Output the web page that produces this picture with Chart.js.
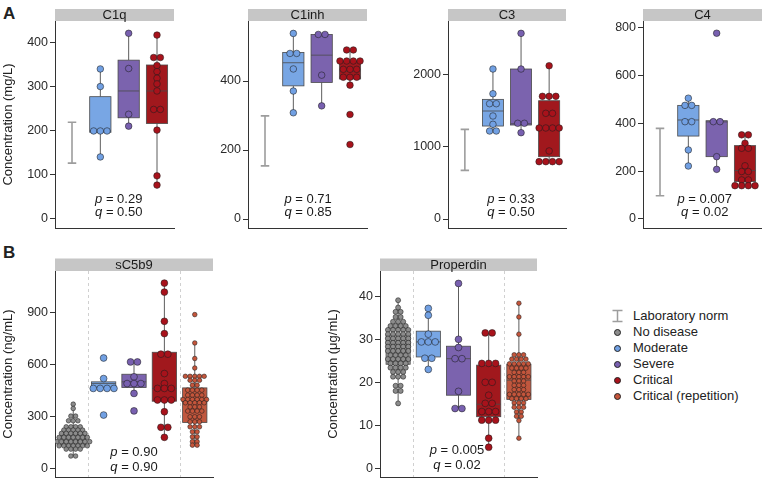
<!DOCTYPE html>
<html>
<head>
<meta charset="utf-8">
<script src="https://cdn.jsdelivr.net/npm/chart.js@4.4.1/dist/chart.umd.min.js"></script>
<style>
  body { margin: 0; background: #fff; }
  #page { position: relative; width: 762px; height: 480px; overflow: hidden; font-family: 'Liberation Sans', Arial, Helvetica, sans-serif; color: #222; }
  #page canvas { position: absolute; }
  .tag { position: absolute; left: 3px; font-weight: bold; font-size: 17px; line-height: 17px; }
  #legend { position: absolute; left: 609px; top: 308px; font-size: 13px; }
  #legend .row { position: relative; height: 16px; line-height: 16px; padding-left: 24px; white-space: nowrap; }
  #legend .dot { position: absolute; left: 5px; top: 5px; width: 5px; height: 5px; border-radius: 50%; border: 0.6px solid #222; }
  #legend svg { position: absolute; left: 2px; top: 1px; }
</style>
</head>
<body>
<div id="page">
  <div class="tag" style="top:5px">A</div>
  <div class="tag" style="top:244px">B</div>
  <div id="legend">
    <div class="row"><svg width="13" height="14"><path d="M1.5 1.5H11.5M6.5 1.5V12.5M1.5 12.5H11.5" stroke="#9d9d9d" stroke-width="1.5" fill="none"/></svg>Laboratory norm</div>
    <div class="row"><span class="dot" style="background:#8c8c8c"></span>No disease</div>
    <div class="row"><span class="dot" style="background:#71a0e3"></span>Moderate</div>
    <div class="row"><span class="dot" style="background:#7860b0"></span>Severe</div>
    <div class="row"><span class="dot" style="background:#a8121b"></span>Critical</div>
    <div class="row"><span class="dot" style="background:#c4553b"></span>Critical (repetition)</div>
  </div>
</div>
<script>
// ==================== DATA ====================
// box stats are [lower whisker, q1, median, q3, upper whisker]
const TOP_GROUPS = ['Laboratory norm', 'Moderate', 'Severe', 'Critical'];
const BOTTOM_GROUPS = ['No disease', 'Moderate', 'Severe', 'Critical', 'Critical (repetition)'];

// C1q (mg/L)
const c1qTicks = [0, 100, 200, 300, 400];
const c1qNorm = [127, 220];
const c1qModerate = [341, 301, 200, 200, 200, 141];
const c1qSevere = [422, 342, 238, 211];
const c1qCritical = [418, 367, 367, 349, 335, 320, 307, 291, 249, 249, 202, 98, 77];
const c1qBoxes = [[141, 197, 200, 278, 341], [211, 230, 291, 361, 422], [77, 217, 291, 350, 418]];

// C1inh (mg/L)
const c1inhTicks = [0, 200, 400];
const c1inhNorm = [154, 299];
const c1inhModerate = [538, 480, 480, 435, 371, 308];
const c1inhSevere = [535, 535, 417, 328];
const c1inhCritical = [490, 490, 458, 458, 458, 458, 434, 434, 434, 411, 411, 411, 388, 303, 216];
const c1inhBoxes = [[308, 386, 453, 483, 538], [328, 396, 475, 535, 535], [388, 406, 429, 458, 490]];

// C3 (mg/L)
const c3Ticks = [0, 1000, 2000];
const c3Norm = [673, 1240];
const c3Moderate = [2075, 1733, 1595, 1595, 1425, 1310, 1217, 1217];
const c3Severe = [2568, 2075, 1324, 1324, 1194];
const c3Critical = [2120, 1697, 1697, 1697, 1462, 1462, 1259, 1259, 1259, 1259, 941, 793, 793, 793, 793];
const c3Boxes = [[1217, 1286, 1494, 1655, 2075], [1194, 1300, 1318, 2075, 2568], [793, 862, 1259, 1636, 2120]];

// C4 (mg/L)
const c4Ticks = [0, 200, 400, 600, 800];
const c4Norm = [97, 378];
const c4Moderate = [504, 474, 474, 406, 406, 288, 221];
const c4Severe = [775, 406, 406, 260, 207];
const c4Critical = [351, 351, 316, 295, 295, 222, 198, 198, 163, 163, 139, 139, 139, 139];
const c4Boxes = [[221, 346, 413, 474, 504], [207, 260, 405, 410, 410], [139, 156, 202, 306, 351]];

// sC5b9 (ng/mL)
const sc5b9Ticks = [0, 300, 600, 900];
const sc5b9NoDisease = [371, 346, 302, 302, 275, 275, 275, 240, 240, 240, 240,
  221, 221, 221, 221, 221, 202, 202, 202, 202, 202, 202,
  179, 179, 179, 179, 179, 179, 179, 154, 154, 154, 154, 154, 154, 154, 154,
  130, 130, 130, 130, 130, 130, 130, 111, 111, 111, 111, 71, 71];
const sc5b9Moderate = [638, 519, 462, 462, 462, 462, 308];
const sc5b9Severe = [615, 615, 529, 490, 490, 490, 433, 332];
const sc5b9Critical = [1071, 1019, 850, 779, 660, 660, 548, 490, 462, 462, 462, 395, 395, 395, 327, 237, 237, 179];
const sc5b9Repetition = [889, 725, 635, 580, 532, 532, 532, 532, 532, 509, 509, 509, 481, 481,
  452, 452, 452, 452, 423, 423, 423, 423, 398, 398, 398, 398, 398, 398,
  379, 379, 379, 379, 379, 355, 355, 355, 331, 331, 331, 331, 298, 298, 298,
  269, 269, 269, 240, 240, 240, 211, 211, 182, 182, 154, 154, 134, 134];
const sc5b9Boxes = [[71, 130, 160, 205, 371], [462, 465, 490, 500, 519], [433, 467, 500, 544, 615],
  [179, 388, 462, 671, 1071], [134, 265, 385, 465, 725]];

// Properdin (µg/mL)
const properdinTicks = [0, 10, 20, 30, 40];
const properdinNoDisease = [39.2, 37.5, 36.5, 36.5, 35.3, 35.3, 34.2, 34.2, 34.2, 33.2, 33.2, 33.2, 33.2,
  32.3, 32.3, 32.3, 32.3, 32.3, 31.3, 31.3, 31.3, 31.3, 31.3, 30.3, 30.3, 30.3, 30.3, 30.3,
  29.3, 29.3, 29.3, 29.3, 29.3, 28.4, 28.4, 28.4, 28.4, 28.4, 27.4, 27.4, 27.4, 27.4, 27.4,
  26.4, 26.4, 26.4, 26.4, 25.5, 25.5, 25.5, 25.5, 25.5, 24.5, 24.5, 24.5, 24.5,
  23.5, 23.5, 23.5, 23.5, 22.5, 22.5, 22.5, 21.4, 21.4, 21.4, 19.3, 19.3, 18.1, 18.1, 15.2];
const properdinModerate = [37.3, 35.7, 31.3, 29.5, 29.5, 29.5, 25.7, 25.7, 23.1];
const properdinSevere = [43.1, 30.1, 28.2, 25.6, 25.6, 18.0, 14.0, 14.0];
const properdinCritical = [31.6, 31.6, 24.5, 24.5, 24.5, 20.1, 20.1, 17.1, 15.2, 15.2,
  13.3, 13.3, 13.3, 11.3, 11.3, 11.3, 7.1, 5.0];
const properdinRepetition = [38.5, 35.3, 31.3, 26.5, 26.5, 26.5, 25.5, 25.5, 25.5, 25.5,
  24.4, 24.4, 24.4, 24.4, 24.4, 23.4, 23.4, 23.4, 23.4, 22.4, 22.4, 22.4,
  21.4, 21.4, 21.4, 21.4, 21.4, 20.4, 20.4, 20.4, 19.4, 19.4, 19.4, 18.4, 18.4, 18.4,
  17.3, 17.3, 17.3, 17.3, 17.3, 16.3, 16.3, 16.3, 16.3, 15.3, 15.3, 15.3,
  14.3, 14.3, 14.3, 13.2, 13.2, 12.2, 12.2, 11.2, 7.1];
const properdinBoxes = [[15.2, 24.3, 28.5, 31.2, 39.2], [23.1, 26.0, 29.5, 32.0, 37.3], [14.0, 17.1, 25.6, 28.5, 43.1],
  [5.0, 12.1, 15.0, 24.1, 31.6], [7.1, 16.1, 20.6, 24.3, 38.5]];

// ==================== STYLE ====================
const FONT = "'Liberation Sans', Arial, Helvetica, sans-serif";
const COLORS = { noDisease: '#8c8c8c', moderate: '#71a0e3', severe: '#7860b0', critical: '#a8121b', repetition: '#c4553b' };
const BOX_COLORS = { noDisease: '#9b9b9b', moderate: '#78a6e4', severe: '#7b63ae', critical: '#a1181d', repetition: '#c0573e' };

Chart.defaults.font.family = FONT;
Chart.defaults.color = '#222';

const TOP = { plotTop: 21, plotBottom: 228, padTop: 21, padBottom: 2, stripH: 12, xMax: 4.6, boxWidth: 0.75, pqY: [-29, -15.5] };
const BOTTOM = { plotTop: 271, plotBottom: 477, padTop: 13, padBottom: 2, stripH: 12.5, xMax: 5.6, boxWidth: 0.8 };

function topGroups(mod, sev, crit, boxes) {
  return [
    { x: 2, values: mod, box: boxes[0], color: COLORS.moderate, boxColor: BOX_COLORS.moderate, r: 3.3 },
    { x: 3, values: sev, box: boxes[1], color: COLORS.severe, boxColor: BOX_COLORS.severe, r: 3.3 },
    { x: 4, values: crit, box: boxes[2], color: COLORS.critical, boxColor: BOX_COLORS.critical, r: 3.3 }
  ];
}
function bottomGroups(nd, mod, sev, crit, rep, boxes, ndR) {
  return [
    { x: 1, values: nd, box: boxes[0], color: COLORS.noDisease, boxColor: BOX_COLORS.noDisease, r: ndR },
    { x: 2, values: mod, box: boxes[1], color: COLORS.moderate, boxColor: BOX_COLORS.moderate, r: 3.4 },
    { x: 3, values: sev, box: boxes[2], color: COLORS.severe, boxColor: BOX_COLORS.severe, r: 3.4 },
    { x: 4, values: crit, box: boxes[3], color: COLORS.critical, boxColor: BOX_COLORS.critical, r: 3.4 },
    { x: 5, values: rep, box: boxes[4], color: COLORS.repetition, boxColor: BOX_COLORS.repetition, r: 2.3 }
  ];
}

const PANELS = [
  { ...TOP, title: 'C1q', axisTitle: 'Concentration (mg/L)', plotLeft: 55, plotRight: 174, axisW: 55, padRight: 1,
    yMin: -20.5, yMax: 450, ticks: c1qTicks, norm: c1qNorm, p: '0.29', q: '0.50', pqX: 2.65,
    groups: topGroups(c1qModerate, c1qSevere, c1qCritical, c1qBoxes), separators: [] },
  { ...TOP, title: 'C1inh', plotLeft: 248, plotRight: 367, axisW: 45, padRight: 1,
    yMin: -26, yMax: 574, ticks: c1inhTicks, norm: c1inhNorm, p: '0.71', q: '0.85', pqX: 2.52,
    groups: topGroups(c1inhModerate, c1inhSevere, c1inhCritical, c1inhBoxes), separators: [] },
  { ...TOP, title: 'C3', plotLeft: 448, plotRight: 566, axisW: 45, padRight: 1,
    yMin: -124.5, yMax: 2739, ticks: c3Ticks, norm: c3Norm, p: '0.33', q: '0.50', pqX: 2.64,
    groups: topGroups(c3Moderate, c3Severe, c3Critical, c3Boxes), separators: [] },
  { ...TOP, title: 'C4', plotLeft: 643, plotRight: 762, axisW: 40, padRight: 0,
    yMin: -37.6, yMax: 826, ticks: c4Ticks, norm: c4Norm, p: '0.007', q: '0.02', pqX: 2.58,
    groups: topGroups(c4Moderate, c4Severe, c4Critical, c4Boxes), separators: [] },
  { ...BOTTOM, title: 'sC5b9', axisTitle: 'Concentration (ng/mL)', plotLeft: 55, plotRight: 213, axisW: 55, padRight: 1,
    yMin: -50.3, yMax: 1141, ticks: sc5b9Ticks, norm: null, p: '0.90', q: '0.90', pqX: 3.0, pqY: [-24.5, -9.5],
    groups: bottomGroups(sc5b9NoDisease, sc5b9Moderate, sc5b9Severe, sc5b9Critical, sc5b9Repetition, sc5b9Boxes, 2.3),
    separators: [1.5, 4.5] },
  { ...BOTTOM, title: 'Properdin', axisTitle: 'Concentration (μg/mL)', plotLeft: 380, plotRight: 537, axisW: 55, padRight: 1,
    yMin: -1.93, yMax: 46, ticks: properdinTicks, norm: null, p: '0.005', q: '0.02', pqX: 2.95, pqY: [-26.5, -11.5],
    groups: bottomGroups(properdinNoDisease, properdinModerate, properdinSevere, properdinCritical, properdinRepetition, properdinBoxes, 2.5),
    separators: [1.5, 4.5] }
];

// ==================== HELPERS ====================
// dots sharing a value sit side by side, centred on the group
function swarm(values, center, step) {
  const total = {}, used = {};
  values.forEach(v => { total[v] = (total[v] || 0) + 1; });
  return values.map(v => {
    used[v] = used[v] === undefined ? 0 : used[v] + 1;
    return { x: center + (used[v] - (total[v] - 1) / 2) * step, y: v };
  });
}

function decorPlugin(cfg) {
  return {
    id: 'decor',
    beforeDatasetsDraw(chart) {
      const { ctx, chartArea: a, scales: { x, y } } = chart;
      ctx.save();
      ctx.strokeStyle = '#cbcbcb'; ctx.lineWidth = 0.9; ctx.setLineDash([3, 3]);
      cfg.separators.forEach(s => {
        const px = Math.round(x.getPixelForValue(s)) + 0.5;
        ctx.beginPath(); ctx.moveTo(px, a.top); ctx.lineTo(px, a.bottom); ctx.stroke();
      });
      ctx.setLineDash([]);

      if (cfg.norm) {
        const cx = x.getPixelForValue(1), hw = x.getPixelForValue(1.15) - cx;
        const y0 = y.getPixelForValue(cfg.norm[0]), y1 = y.getPixelForValue(cfg.norm[1]);
        ctx.strokeStyle = '#9d9d9d'; ctx.lineWidth = 1.6;
        ctx.beginPath();
        ctx.moveTo(cx - hw, y1); ctx.lineTo(cx + hw, y1);
        ctx.moveTo(cx, y1); ctx.lineTo(cx, y0);
        ctx.moveTo(cx - hw, y0); ctx.lineTo(cx + hw, y0);
        ctx.stroke();
      }

      cfg.groups.forEach(g => {
        const [lo, q1, med, q3, hi] = g.box.map(v => y.getPixelForValue(v));
        const cx = x.getPixelForValue(g.x);
        const hw = x.getPixelForValue(g.x + cfg.boxWidth / 2) - cx;
        ctx.strokeStyle = '#333'; ctx.lineWidth = 0.8;
        ctx.beginPath();
        ctx.moveTo(cx, hi); ctx.lineTo(cx, q3);
        ctx.moveTo(cx, q1); ctx.lineTo(cx, lo);
        ctx.stroke();
        ctx.fillStyle = g.boxColor;
        ctx.fillRect(cx - hw, q3, 2 * hw, q1 - q3);
        ctx.strokeStyle = '#4a4a4a';
        ctx.strokeRect(cx - hw, q3, 2 * hw, q1 - q3);
        ctx.beginPath(); ctx.moveTo(cx - hw, med); ctx.lineTo(cx + hw, med); ctx.stroke();
      });
      ctx.restore();
    },
    afterDraw(chart) {
      const { ctx, chartArea: a, scales: { x } } = chart;
      ctx.save();
      // facet strip
      ctx.fillStyle = '#c6c6c6';
      ctx.fillRect(a.left, a.top - cfg.stripH, a.right - a.left, cfg.stripH);
      ctx.fillStyle = '#1a1a1a';
      ctx.font = '13px ' + FONT;
      ctx.textAlign = 'center'; ctx.textBaseline = 'middle';
      ctx.fillText(cfg.title, (a.left + a.right) / 2, a.top - cfg.stripH / 2 + 0.5);

      // p / q annotation, italic letter
      const cx = x.getPixelForValue(cfg.pqX);
      ctx.textAlign = 'left';
      [['p', cfg.p, cfg.pqY[0]], ['q', cfg.q, cfg.pqY[1]]].forEach(([sym, val, dy]) => {
        const rest = ' = ' + val;
        ctx.font = 'italic 13px ' + FONT;
        const w1 = ctx.measureText(sym).width;
        ctx.font = '13px ' + FONT;
        const w2 = ctx.measureText(rest).width;
        const left = cx - (w1 + w2) / 2;
        ctx.font = 'italic 13px ' + FONT;
        ctx.fillText(sym, left, a.bottom + dy);
        ctx.font = '13px ' + FONT;
        ctx.fillText(rest, left + w1, a.bottom + dy);
      });
      ctx.restore();
    }
  };
}

function buildPanel(cfg) {
  const plotW = cfg.plotRight - cfg.plotLeft;
  const plotH = cfg.plotBottom - cfg.plotTop;
  const w = cfg.axisW + plotW + cfg.padRight;
  const h = cfg.padTop + plotH + cfg.padBottom;
  const canvas = document.createElement('canvas');
  canvas.width = w; canvas.height = h;
  canvas.style.left = (cfg.plotLeft - cfg.axisW) + 'px';
  canvas.style.top = (cfg.plotTop - cfg.padTop) + 'px';
  canvas.style.width = w + 'px'; canvas.style.height = h + 'px';
  document.getElementById('page').appendChild(canvas);

  const pxPerUnit = plotW / (cfg.xMax - 0.4);
  const datasets = cfg.groups.map(g => ({
    data: swarm(g.values, g.x, (2 * g.r + 0.1) / pxPerUnit),
    pointRadius: g.r,
    pointHoverRadius: g.r,
    backgroundColor: g.color,
    borderColor: '#1e1e1e',
    borderWidth: 0.55
  }));

  return new Chart(canvas.getContext('2d'), {
    type: 'scatter',
    data: { datasets },
    options: {
      responsive: false,
      animation: false,
      devicePixelRatio: 1,
      events: [],
      layout: { autoPadding: false, padding: { top: cfg.padTop, right: cfg.padRight, bottom: cfg.padBottom, left: 0 } },
      plugins: { legend: { display: false }, tooltip: { enabled: false } },
      scales: {
        x: {
          type: 'linear', min: 0.4, max: cfg.xMax,
          afterFit: s => { s.height = 0; s.paddingLeft = 0; s.paddingRight = 0; },
          ticks: { display: false },
          grid: { display: false },
          border: { display: true, color: '#333', width: 1 }
        },
        y: {
          min: cfg.yMin, max: cfg.yMax,
          // fixed axis width and no label overhang so the plot area lands where it should
          afterFit: s => { s.width = cfg.axisW; s.paddingTop = 0; s.paddingBottom = 0; },
          afterBuildTicks: s => { s.ticks = cfg.ticks.map(v => ({ value: v })); },
          ticks: { color: '#2a2a2a', font: { size: 12.5 }, padding: 2, callback: v => String(v) },
          grid: { drawOnChartArea: false, tickLength: 5, color: '#333', lineWidth: 1 },
          border: { color: '#333', width: 1 },
          title: cfg.axisTitle
            ? { display: true, text: cfg.axisTitle, color: '#222', font: { size: 13 }, padding: { top: 1, bottom: 0 } }
            : { display: false }
        }
      }
    },
    plugins: [decorPlugin(cfg)]
  });
}

PANELS.forEach(buildPanel);
</script>
</body>
</html>
